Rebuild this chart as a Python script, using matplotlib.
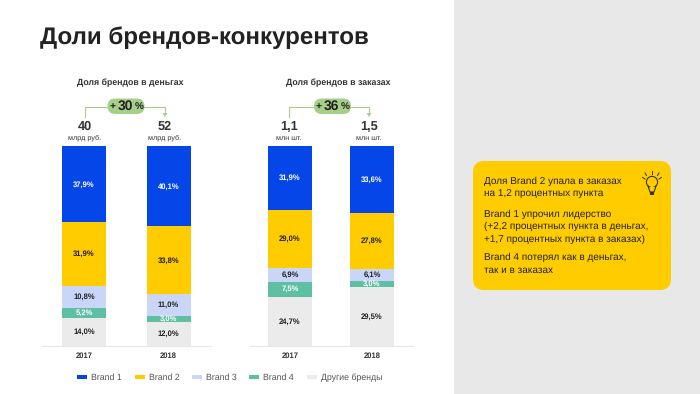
import matplotlib
matplotlib.use('Agg')
import matplotlib.pyplot as plt
from matplotlib.patches import FancyBboxPatch, Rectangle, Circle

plt.rcParams['font.family'] = ['Liberation Sans', 'DejaVu Sans']
plt.rcParams['text.hinting'] = 'no_hinting'

years = ['2017', '2018']
brands = ['Brand 1', 'Brand 2', 'Brand 3', 'Brand 4', 'Другие бренды']
colors = ['#0546E8', '#FFCC00', '#C9D6F7', '#5FBFA3', '#EBEBEB']
label_colors = ['white', '#222222', '#222222', 'white', '#222222']

money = [[37.9, 40.1], [31.9, 33.8], [10.8, 11.0], [5.2, 3.0], [14.0, 12.0]]
orders = [[31.9, 33.6], [29.0, 27.8], [6.9, 6.1], [7.5, 3.0], [24.7, 29.5]]

money_totals = ['40', '52']
money_units = 'млрд руб.'
order_totals = ['1,1', '1,5']
order_units = 'млн шт.'

notes = [(181, 'Доля Brand 2 упала в заказах'), (194, 'на 1,2 процентных пункта'),
         (214, 'Brand 1 упрочил лидерство'), (226.5, '(+2,2 процентных пункта в деньгах,'),
         (239, '+1,7 процентных пункта в заказах)'), (257.5, 'Brand 4 потерял как в деньгах,'),
         (270, 'так и в заказах')]

W, H = 700, 394
fig = plt.figure(figsize=(7, 3.94), dpi=100, facecolor='white')


def axes_px(x0, y0, x1, y1):
    return fig.add_axes([x0 / W, 1 - y1 / H, (x1 - x0) / W, (y1 - y0) / H])


# page layer, pixel coords
bg = fig.add_axes([0, 0, 1, 1])
bg.axis('off')
bg.add_patch(Rectangle((454, 0), 246, 394, color='#E8E8E8', lw=0))
bg.add_patch(FancyBboxPatch((473, 161), 198, 129, boxstyle='round,pad=0,rounding_size=11',
                            fc='#FFCC00', ec='none'))
bg.text(40, 38, 'Доли брендов-конкурентов', fontsize=17.4, fontweight='bold',
        color='#222222', va='center', ha='left')


def stacked(values, x0, x1, c0, c1, bar_w):
    step = c1 - c0
    ax = axes_px(x0, 146, x1, 346)
    ax.set_xlim(-(c0 - x0) / step, 1 + (x1 - c1) / step)
    ax.set_ylim(0, 100)
    ax.patch.set_alpha(0)
    bottom = [0, 0]
    for i in range(len(brands) - 1, -1, -1):
        ax.bar([0, 1], values[i], bar_w / step, bottom=bottom, color=colors[i], lw=0)
        for j in range(2):
            ax.text(j, bottom[j] + values[i][j] / 2, f'{values[i][j]:.1f}%'.replace('.', ','),
                    ha='center', va='center', fontsize=5.5, fontweight='bold',
                    color=label_colors[i])
        bottom = [bottom[k] + values[i][k] for k in range(2)]
    for s in ['top', 'left', 'right']:
        ax.spines[s].set_visible(False)
    ax.spines['bottom'].set_color('#E8E8E8')
    ax.spines['bottom'].set_linewidth(0.8)
    ax.set_yticks([])
    ax.set_xticks([0, 1], years)
    ax.tick_params(axis='x', length=0, pad=4.5, labelsize=5.5, labelcolor='#333333')
    for t in ax.get_xticklabels():
        t.set_fontweight('bold')


stacked(money, 42, 211, 84, 168.5, 44)
stacked(orders, 250, 413, 290, 372, 44)

green = '#A6D08A'


def header(title, tx, totals, units, c0, c1, pill_x, pct):
    bg.text(tx, 83, title, fontsize=6.3, fontweight='bold', color='#333333', ha='center', va='center')
    bg.plot([c0, c0, c1, c1], [117, 107, 107, 113], color=green, lw=0.8)
    bg.fill([c1 - 2.5, c1 + 2.5, c1], [113, 113, 117], color=green, lw=0)
    bg.add_patch(FancyBboxPatch((pill_x - 18.5, 98.5), 37, 15.5,
                                boxstyle='round,pad=0,rounding_size=7.7', fc=green, ec='none', zorder=3))
    bg.text(pill_x - 13.5, 107, '+', fontsize=7.5, fontweight='bold', color='#222222', ha='center', va='center', zorder=4)
    bg.text(pill_x - 1, 106.5, pct, fontsize=10, fontweight='bold', color='#222222', ha='center', va='center', zorder=4)
    bg.text(pill_x + 13, 107.5, '%', fontsize=7.2, fontweight='bold', color='#222222', ha='center', va='center', zorder=4)
    for c, tot in zip([c0, c1], totals):
        bg.text(c, 127, tot, fontsize=9.2, fontweight='bold', color='#333333', ha='center', va='center')
        bg.text(c, 138, units, fontsize=5.2, color='#333333', ha='center', va='center')


header('Доля брендов в деньгах', 130, money_totals, money_units, 85, 165, 126, '30')
header('Доля брендов в заказах', 338, order_totals, order_units, 289, 369, 332.5, '36')

# legend
leg_x = [77, 135, 192, 249, 307]
for x, c, name in zip(leg_x, colors, brands):
    bg.add_patch(Rectangle((x, 375), 10, 3.6, color=c, lw=0))
    bg.text(x + 14, 378, name, fontsize=6.3, color='#555555', ha='left', va='center')

# note text
for y, s in notes:
    bg.text(484, y, s, fontsize=7.2, color='#222222', ha='left', va='center')

# bulb icon
bg.add_patch(Circle((652, 182), 5.6, fc='none', ec='#333333', lw=0.8))
bg.add_patch(Rectangle((649.5, 186.5), 5, 5.5, fc='#FFCC00', ec='none', zorder=3))
bg.plot([648, 650, 654, 656], [186, 192, 192, 186], color='#333333', lw=0.8, zorder=4)
bg.add_patch(Rectangle((649.6, 192), 4.8, 2.6, color='#333333', lw=0, zorder=4))
for seg in [((652, 652), (171, 174)), ((645, 646.5), (173, 175.5)), ((659, 657.5), (173, 175.5)),
            ((642.5, 645), (177.5, 179)), ((661.5, 659), (177.5, 179))]:
    bg.plot(seg[0], seg[1], color='#333333', lw=0.7)
bg.set_xlim(0, W)
bg.set_ylim(H, 0)

fig.savefig('out.png', dpi=100)
